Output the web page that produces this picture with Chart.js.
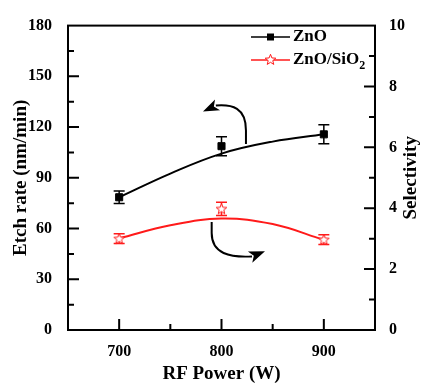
<!DOCTYPE html>
<html>
<head>
<meta charset="utf-8">
<script src="https://cdn.jsdelivr.net/npm/chart.js@4"></script>
<style>
  body { margin: 0; background: #fff; }
  #wrap { width: 422px; height: 385px; }
</style>
</head>
<body>
<div id="wrap"><canvas id="chart" width="422" height="385"></canvas></div>
<script>
// Etch rate (left axis) and ZnO/SiO2 selectivity (right axis) vs RF power

const powers = [700, 800, 900];
const etchRate = [78.5, 108.7, 115.7];
const etchErr = [3.7, 5.6, 5.6];
const selectivity = [3.0, 3.98, 2.97];
const selectivityErr = [0.16, 0.22, 0.16];

// fitted trend curves
const fitPowers = [700, 750, 800, 850, 900];
const etchFit = [78.5, 92.5, 104.3, 111.4, 115.7];
const selectivityFit = [3.01, 3.44, 3.66, 3.48, 2.96];

const seriesNames = ['ZnO', 'ZnO/SiO2'];
const xTickLabels = [700, 800, 900];

// curved arrows, in data units (x: W, y: etch rate): start, bend, cp1, cp2, end, tip
const arrowToLeft = [[823.9, 110], [823.9, 118], [823.9, 131.5], [810.3, 133.5], [794.5, 132.7], [781.9, 129.2]];
const arrowToRight = [[790.4, 63.9], [790.4, 57.3], [790.4, 45.0], [808.3, 42.8], [829.8, 43.5], [842.5, 46.5]];

const FONT = "'Liberation Serif', 'Times New Roman', serif";
const RED = '#ff1a1a';

// hollow five-point star used as the ZnO/SiO2 marker
function makeStar() {
    const c = document.createElement('canvas');
    c.width = 13; c.height = 13;
    const g = c.getContext('2d');
    g.beginPath();
    for (let i = 0; i < 10; i++) {
        const r = i % 2 ? 2.4 : 5.6;
        const a = -Math.PI / 2 + i * Math.PI / 5;
        const px = 6.5 + r * Math.cos(a), py = 6.9 + r * Math.sin(a);
        if (i) g.lineTo(px, py); else g.moveTo(px, py);
    }
    g.closePath();
    g.fillStyle = '#fff';
    g.fill();
    g.strokeStyle = RED;
    g.lineWidth = 1;
    g.stroke();
    return c;
}
const starImg = makeStar();

function drawErrors(chart, dsIndex, values, errs, axisId, color) {
    const ctx = chart.ctx;
    const ys = chart.scales[axisId];
    ctx.save();
    ctx.strokeStyle = color;
    ctx.lineWidth = 1.5;
    chart.getDatasetMeta(dsIndex).data.forEach((pt, i) => {
        const top = ys.getPixelForValue(values[i] + errs[i]);
        const bot = ys.getPixelForValue(values[i] - errs[i]);
        ctx.beginPath();
        ctx.moveTo(pt.x, top); ctx.lineTo(pt.x, bot);
        ctx.moveTo(pt.x - 5.5, top); ctx.lineTo(pt.x + 5.5, top);
        ctx.moveTo(pt.x - 5.5, bot); ctx.lineTo(pt.x + 5.5, bot);
        ctx.stroke();
    });
    ctx.restore();
}

function drawArrow(chart, pts) {
    const {ctx, scales} = chart;
    const p = pts.map(d => [scales.x.getPixelForValue(d[0]), scales.y.getPixelForValue(d[1])]);
    ctx.save();
    ctx.strokeStyle = '#000';
    ctx.fillStyle = '#000';
    ctx.lineWidth = 2;
    ctx.beginPath();
    ctx.moveTo(p[0][0], p[0][1]);
    ctx.lineTo(p[1][0], p[1][1]);
    ctx.bezierCurveTo(p[2][0], p[2][1], p[3][0], p[3][1], p[4][0], p[4][1]);
    ctx.stroke();
    // arrow head from end towards tip
    const [ex, ey] = p[4], [tx, ty] = p[5];
    const ang = Math.atan2(ty - ey, tx - ex);
    const len = 16, half = 6;
    const bx = tx - len * Math.cos(ang), by = ty - len * Math.sin(ang);
    ctx.beginPath();
    ctx.moveTo(tx, ty);
    ctx.lineTo(bx + half * Math.sin(ang), by - half * Math.cos(ang));
    ctx.lineTo(bx + 4 * Math.cos(ang), by + 4 * Math.sin(ang));
    ctx.lineTo(bx - half * Math.sin(ang), by + half * Math.cos(ang));
    ctx.closePath();
    ctx.fill();
    ctx.restore();
}

const framePlugin = {
    id: 'frame',
    beforeDatasetsDraw(chart) {
        drawErrors(chart, 0, etchRate, etchErr, 'y', '#000');
        drawErrors(chart, 1, selectivity, selectivityErr, 'y2', RED);
    },
    afterDatasetsDraw(chart) {
        drawArrow(chart, arrowToLeft);
        drawArrow(chart, arrowToRight);
    },
    afterDraw(chart) {
        const {ctx, chartArea: a, scales} = chart;
        ctx.save();
        ctx.strokeStyle = '#000';
        ctx.lineWidth = 2;
        ctx.beginPath();
        // inward ticks: long on labelled values, short in between
        for (let v = 15; v < 180; v += 15) {
            const y = scales.y.getPixelForValue(v);
            ctx.moveTo(a.left, y); ctx.lineTo(a.left + (v % 30 ? 6 : 11), y);
        }
        for (let v = 1; v < 10; v++) {
            const y = scales.y2.getPixelForValue(v);
            ctx.moveTo(a.right, y); ctx.lineTo(a.right - (v % 2 ? 6 : 11), y);
        }
        for (let v = 700; v <= 900; v += 50) {
            const x = scales.x.getPixelForValue(v);
            ctx.moveTo(x, a.bottom); ctx.lineTo(x, a.bottom - (v % 100 ? 6 : 11));
        }
        ctx.stroke();
        ctx.strokeRect(a.left, a.top, a.right - a.left, a.bottom - a.top);

        // right axis title, reading bottom to top
        ctx.fillStyle = '#000';
        ctx.font = 'bold 19px ' + FONT;
        ctx.textAlign = 'center';
        ctx.textBaseline = 'middle';
        ctx.translate(411, (a.top + a.bottom) / 2);
        ctx.rotate(-Math.PI / 2);
        ctx.fillText('Selectivity', 0, 0);
        ctx.restore();

        // legend
        ctx.save();
        ctx.lineWidth = 1.5;
        ctx.font = 'bold 17px ' + FONT;
        ctx.textBaseline = 'middle';
        const rows = [{y: 37, color: '#000'}, {y: 60, color: RED}];
        rows.forEach((r, i) => {
            ctx.strokeStyle = r.color;
            ctx.beginPath();
            ctx.moveTo(251, r.y); ctx.lineTo(290, r.y);
            ctx.stroke();
            if (i === 0) {
                ctx.fillStyle = '#000';
                ctx.fillRect(267, r.y - 3.5, 7, 7);
            } else {
                ctx.drawImage(starImg, 264, r.y - 7);
            }
            ctx.fillStyle = '#000';
            const name = seriesNames[i];
            const m = name.match(/^(.*?)(\d)$/);
            if (m) {
                ctx.fillText(m[1], 293, r.y);
                const w = ctx.measureText(m[1]).width;
                ctx.font = 'bold 12px ' + FONT;
                ctx.fillText(m[2], 293 + w, r.y + 6);
                ctx.font = 'bold 17px ' + FONT;
            } else {
                ctx.fillText(name, 293, r.y);
            }
        });
        ctx.restore();
    }
};

const tickFont = {family: FONT, size: 16, weight: 'bold'};
const titleFont = {family: FONT, size: 19, weight: 'bold'};

new Chart(document.getElementById('chart').getContext('2d'), {
    type: 'line',
    data: {
        datasets: [
            {
                label: seriesNames[0],
                data: powers.map((p, i) => ({x: p, y: etchRate[i]})),
                yAxisID: 'y',
                showLine: false,
                pointStyle: 'rect',
                pointRadius: 5,
                pointBackgroundColor: '#000',
                pointBorderColor: '#000',
                order: 0
            },
            {
                label: seriesNames[1],
                data: powers.map((p, i) => ({x: p, y: selectivity[i]})),
                yAxisID: 'y2',
                showLine: false,
                pointStyle: starImg,
                order: 0
            },
            {
                label: 'ZnO fit',
                data: fitPowers.map((p, i) => ({x: p, y: etchFit[i]})),
                yAxisID: 'y',
                borderColor: '#000',
                borderWidth: 2,
                pointRadius: 0,
                tension: 0.4,
                order: 1
            },
            {
                label: 'ZnO/SiO2 fit',
                data: fitPowers.map((p, i) => ({x: p, y: selectivityFit[i]})),
                yAxisID: 'y2',
                borderColor: RED,
                borderWidth: 2,
                pointRadius: 0,
                tension: 0.4,
                order: 1
            }
        ]
    },
    options: {
        responsive: false,
        animation: false,
        events: [],
        layout: {padding: {top: 22, left: 0, right: 0, bottom: 0}},
        plugins: {
            legend: {display: false},
            tooltip: {enabled: false}
        },
        scales: {
            x: {
                type: 'linear',
                position: 'bottom',
                min: 650,
                max: 950,
                grid: {display: false, drawTicks: false},
                border: {display: false},
                ticks: {
                    stepSize: 50,
                    autoSkip: false,
                    maxRotation: 0,
                    padding: 12,
                    color: '#000',
                    font: tickFont,
                    callback: v => xTickLabels.includes(v) ? String(v) : ''
                },
                title: {display: true, text: 'RF Power (W)', color: '#000', font: titleFont, padding: {top: 0, bottom: 0}},
                afterFit: s => { s.height = 55; }
            },
            y: {
                position: 'left',
                min: 0,
                max: 180,
                grid: {display: false, drawTicks: false},
                border: {display: false},
                ticks: {stepSize: 30, padding: 16, color: '#000', font: tickFont},
                title: {display: true, text: 'Etch rate (nm/min)', color: '#000', font: titleFont, padding: {top: 10, bottom: 0}},
                afterFit: s => { s.width = 68; }
            },
            y2: {
                position: 'right',
                min: 0,
                max: 10,
                grid: {display: false, drawTicks: false},
                border: {display: false},
                ticks: {stepSize: 2, padding: 14, color: '#000', font: tickFont},
                afterFit: s => { s.width = 47; }
            }
        }
    },
    plugins: [framePlugin]
});
</script>
</body>
</html>
